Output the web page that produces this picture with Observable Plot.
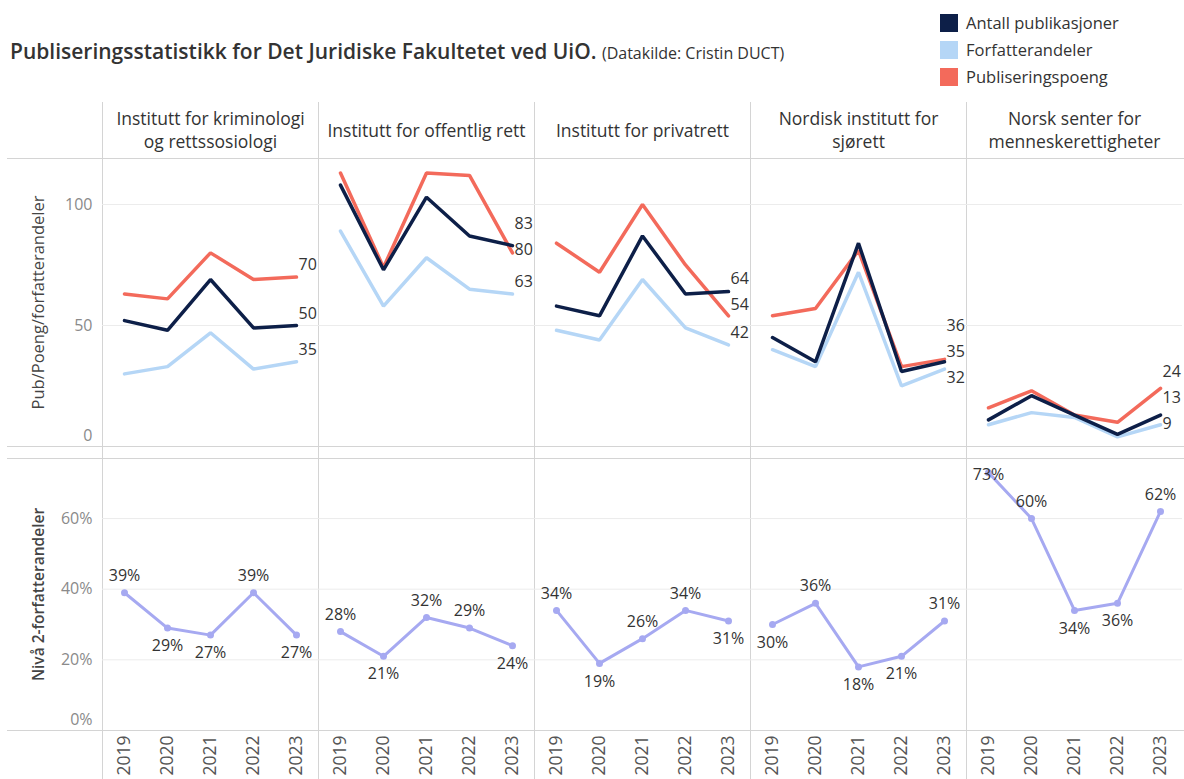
<!DOCTYPE html>
<html>
<head>
<meta charset="utf-8">
<script src="https://cdn.jsdelivr.net/npm/d3@7"></script>
<script src="https://cdn.jsdelivr.net/npm/@observablehq/plot@0.6"></script>
<style>
  body { margin: 0; background: #fff; font-family: "Open Sans", sans-serif; }
  #wrap { position: relative; width: 1184px; height: 779px; overflow: hidden; background: #fff; }
  #title { position: absolute; left: 10px; top: 37px; font-size: 21px; font-weight: 600; color: #333; white-space: nowrap; }
  #title span { font-size: 16px; font-weight: 400; }
  #legend { position: absolute; left: 940px; top: 9px; }
  .li { display: flex; align-items: center; height: 27px; font-size: 16.5px; color: #333; }
  .sw { width: 18px; height: 18px; margin-right: 8px; flex: none; }
  #chrome { position: absolute; left: 0; top: 0; }
  #top { position: absolute; left: 0; top: 100px; }
  #bottom { position: absolute; left: 0; top: 452px; }
</style>
</head>
<body>
<div id="wrap">
  <svg id="chrome" width="1184" height="779"></svg>
  <div id="title">Publiseringsstatistikk for Det Juridiske Fakultetet ved UiO. <span>(Datakilde: Cristin DUCT)</span></div>
  <div id="legend"></div>
  <div id="top"></div>
  <div id="bottom"></div>
</div>
<script>
// ---------- data ----------
const years = [2019, 2020, 2021, 2022, 2023];
const institutes = [
  "Institutt for kriminologi\nog rettssosiologi",
  "Institutt for offentlig rett",
  "Institutt for privatrett",
  "Nordisk institutt for\nsjørett",
  "Norsk senter for\nmenneskerettigheter"
];
const seriesNames = ["Antall publikasjoner", "Forfatterandeler", "Publiseringspoeng"];
const seriesColors = ["#0d1f48", "#b5d6f6", "#f36a5b"];
const niva2Color = "#a6a9f1";

// one row per institute, values per year
const antallPublikasjoner = [
  [52, 48, 69, 49, 50],
  [108, 73, 103, 87, 83],
  [58, 54, 87, 63, 64],
  [45, 35, 84, 31, 35],
  [11, 21, 13, 5, 13]
];
const forfatterandeler = [
  [30, 33, 47, 32, 35],
  [89, 58, 78, 65, 63],
  [48, 44, 69, 49, 42],
  [40, 33, 72, 25, 32],
  [9, 14, 12, 4, 9]
];
const publiseringspoeng = [
  [63, 61, 80, 69, 70],
  [113, 74, 113, 112, 80],
  [84, 72, 100, 75, 54],
  [54, 57, 81, 33, 36],
  [16, 23, 13, 10, 24]
];
const niva2Andel = [
  [0.39, 0.29, 0.27, 0.39, 0.27],
  [0.28, 0.21, 0.32, 0.29, 0.24],
  [0.34, 0.19, 0.26, 0.34, 0.31],
  [0.30, 0.36, 0.18, 0.21, 0.31],
  [0.73, 0.60, 0.34, 0.36, 0.62]
];
const yTicksTop = [0, 50, 100];
const yTicksBottom = [0, 0.2, 0.4, 0.6];

// ---------- layout ----------
const W = 1184, ML = 100, MR = 0;
const topH = 352, topMT = 58, topMB = 6, topMax = 119;
const botH = 327, botMT = 6, botMB = 49, botMax = 0.77;
const topOffset = 100, botOffset = 452;
const gridColor = "#ececec", lineColor = "#d4d4d4";
const font = "Open Sans";

// legend
const legend = document.getElementById("legend");
seriesNames.forEach((s, i) => {
  const row = document.createElement("div");
  row.className = "li";
  row.innerHTML = `<div class="sw" style="background:${seriesColors[i]}"></div><div>${s}</div>`;
  legend.appendChild(row);
});

// ---------- top panel data ----------
const seriesValues = [antallPublikasjoner, forfatterandeler, publiseringspoeng];
const drawOrder = [1, 2, 0];
const topRows = [];
drawOrder.forEach(si => institutes.forEach((inst, ii) => years.forEach((yr, yi) =>
  topRows.push({series: seriesNames[si], inst, year: yr, value: seriesValues[si][ii][yi]}))));

// end labels, spread apart so they don't collide
const yTopPx = d3.scaleLinear([0, topMax], [topH - topMB, topMT]);
const endLabels = [];
institutes.forEach((inst, ii) => {
  const items = seriesNames.map((s, si) => ({series: s, inst, year: years[years.length - 1], value: seriesValues[si][ii][years.length - 1]}));
  items.sort((a, b) => b.value - a.value);
  const pos = items.map(d => yTopPx(d.value) - 12);
  const gap = 26;
  for (let it = 0; it < 200; it++) {
    for (let i = 0; i < pos.length - 1; i++) {
      if (pos[i + 1] - pos[i] < gap) {
        const m = (pos[i] + pos[i + 1]) / 2;
        pos[i] = m - gap / 2; pos[i + 1] = m + gap / 2;
      }
    }
  }
  items.forEach((d, i) => { d.labelY = yTopPx.invert(pos[i]); endLabels.push(d); });
});

const topPlot = Plot.plot({
  width: W, height: topH,
  marginLeft: ML, marginRight: MR, marginTop: topMT, marginBottom: topMB,
  style: {fontFamily: font, fontSize: "15px", color: "#333", background: "transparent", overflow: "visible"},
  fx: {domain: institutes, padding: 0, label: null},
  x: {type: "point", domain: years, padding: 0.5, axis: null},
  y: {domain: [0, topMax], axis: null},
  color: {domain: seriesNames, range: seriesColors},
  marks: [
    Plot.gridY(yTicksTop.filter(d => d > 0), {stroke: gridColor, strokeOpacity: 1}),
    Plot.axisY(yTicksTop.filter(d => d > 0), {anchor: "left", tickSize: 0, tickPadding: 10, fill: "#8a8a8a", label: null, fontSize: 16}),
    Plot.axisY(yTicksTop.filter(d => d === 0), {anchor: "left", tickSize: 0, tickPadding: 10, dy: -11, fill: "#8a8a8a", label: null, fontSize: 16}),
    Plot.axisY(yTicksTop, {anchor: "left", tickSize: 0, tickFormat: () => "", label: "Pub/Poeng/forfatterandeler", labelAnchor: "center", labelOffset: 70, labelArrow: "none", fill: "#444", fontSize: 16.5}),
    Plot.axisFx({anchor: "top", tickSize: 0, tickPadding: 29, lineAnchor: "middle", lineHeight: 1.3, label: null, fontSize: 17.5, fill: "#333"}),
    Plot.line(topRows, {fx: "inst", x: "year", y: "value", z: "series", stroke: "series", strokeWidth: 3.5, strokeLinejoin: "miter"}),
    Plot.text(endLabels, {fx: "inst", x: "year", y: "labelY", text: d => String(d.value), textAnchor: "start", dx: 2, fill: "#333", fontSize: 16})
  ]
});
document.getElementById("top").appendChild(topPlot);

// ---------- bottom panel data ----------
const yBotPx = d3.scaleLinear([0, botMax], [botH - botMB, botMT]);
const botRows = [];
institutes.forEach((inst, ii) => {
  const vals = niva2Andel[ii];
  vals.forEach((v, yi) => {
    const nb = [vals[yi - 1], vals[yi + 1]].filter(d => d !== undefined);
    const above = v >= d3.mean(nb) - 0.01;
    let py = yBotPx(v) + (above ? -17 : 18);
    py = Math.max(py, botMT + 16);
    botRows.push({inst, year: years[yi], value: v, labelY: yBotPx.invert(py)});
  });
});
const pct = d3.format(".0%");

const botPlot = Plot.plot({
  width: W, height: botH,
  marginLeft: ML, marginRight: MR, marginTop: botMT, marginBottom: botMB,
  style: {fontFamily: font, fontSize: "15px", color: "#333", background: "transparent", overflow: "visible"},
  fx: {domain: institutes, padding: 0, axis: null, label: null},
  x: {type: "point", domain: years, padding: 0.5},
  y: {domain: [0, botMax], axis: null},
  marks: [
    Plot.gridY(yTicksBottom.filter(d => d > 0), {stroke: gridColor, strokeOpacity: 1}),
    Plot.axisY(yTicksBottom.filter(d => d > 0), {anchor: "left", tickSize: 0, tickPadding: 10, tickFormat: pct, fill: "#8a8a8a", label: null, fontSize: 16}),
    Plot.axisY(yTicksBottom.filter(d => d === 0), {anchor: "left", tickSize: 0, tickPadding: 10, dy: -11, tickFormat: pct, fill: "#8a8a8a", label: null, fontSize: 16}),
    Plot.axisY(yTicksBottom, {anchor: "left", tickSize: 0, tickFormat: () => "", label: "Nivå 2-forfatterandeler", labelAnchor: "center", labelOffset: 70, labelArrow: "none", fill: "#444", fontSize: 15.5, fontWeight: 600}),
    Plot.axisX(years, {anchor: "bottom", tickSize: 0, tickPadding: 5, tickRotate: -90, tickFormat: d => String(d), label: null, fontSize: 17.5, fill: "#555"}),
    Plot.line(botRows, {fx: "inst", x: "year", y: "value", stroke: niva2Color, strokeWidth: 3}),
    Plot.dot(botRows, {fx: "inst", x: "year", y: "value", fill: niva2Color, r: 3.5}),
    Plot.text(botRows, {fx: "inst", x: "year", y: "labelY", text: d => pct(d.value), fill: "#333", fontSize: 16})
  ]
});
document.getElementById("bottom").appendChild(botPlot);

// ---------- table chrome (borders) derived from the fx scale ----------
const fxScale = topPlot.scale("fx");
const fxPos = inst => (fxScale && fxScale.apply) ? fxScale.apply(inst)
  : d3.scaleBand(institutes, [ML, W - MR])(inst);
const chrome = d3.select("#chrome");
institutes.forEach(inst => {
  const x = Math.round(fxPos(inst)) + 0.5;
  chrome.append("line").attr("x1", x).attr("x2", x).attr("y1", 102).attr("y2", 779)
    .attr("stroke", lineColor).attr("stroke-width", 1);
});
[topOffset + topMT, topOffset + topH - topMB, botOffset + botMT, botOffset + botH - botMB].forEach(y => {
  chrome.append("line").attr("x1", 7).attr("x2", W).attr("y1", y + 0.5).attr("y2", y + 0.5)
    .attr("stroke", lineColor).attr("stroke-width", 1);
});
</script>
</body>
</html>
